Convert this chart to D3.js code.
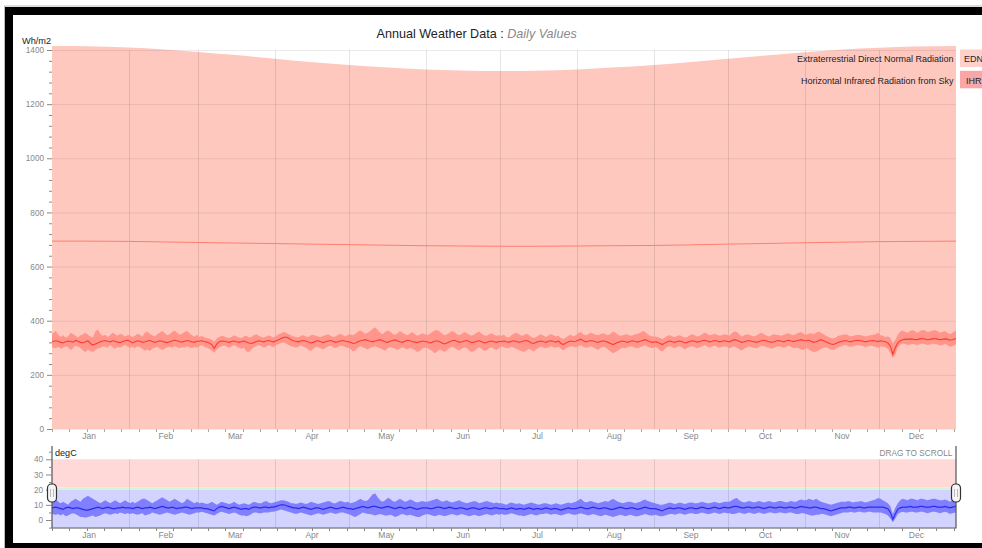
<!DOCTYPE html>
<html>
<head>
<meta charset="utf-8">
<script src="https://cdn.jsdelivr.net/npm/d3@7"></script>
<style>
  body { margin: 0; background: #fff; }
  svg { display: block; font-family: "Liberation Sans", Arial, sans-serif; }
</style>
</head>
<body>
<svg id="chart" width="982" height="548"></svg>
<script>
// ---- Data -------------------------------------------------------------
const YEAR = 2017;
const monthLabels = ["Jan","Feb","Mar","Apr","May","Jun","Jul","Aug","Sep","Oct","Nov","Dec"];

// Extraterrestrial direct normal radiation (Wh/m2), sampled on the 1st and 15th
const ednDates = ["2017-01-01","2017-01-15","2017-02-01","2017-02-15","2017-03-01","2017-03-15",
  "2017-04-01","2017-04-15","2017-05-01","2017-05-15","2017-06-01","2017-06-15","2017-07-01",
  "2017-07-15","2017-08-01","2017-08-15","2017-09-01","2017-09-15","2017-10-01","2017-10-15",
  "2017-11-01","2017-11-15","2017-12-01","2017-12-15","2018-01-01"];
const ednMax  = [1415,1414,1409,1402,1393,1382,1368,1356,1345,1336,1328,1324,1322,1323,1328,1335,1345,1355,1368,1379,1392,1401,1408,1413,1415];
const ednMean = [694,694,693,691,689,687,685,683,681,679,677,676,675,675,676,677,678,680,683,685,688,690,692,693,694];

// Horizontal infrared radiation from sky (Wh/m2), daily mean / min / max, by month
const ihrMean = [
  [322,326,324,320,318,322,325,323,321,327,324,320,318,322,326,316,310,314,318,322,325,327,324,322,326,324,321,319,323,326,328],
  [324,318,322,326,324,320,322,325,327,323,320,322,326,324,321,319,322,325,328,326,323,321,324,327,325,322,320,324],
  [324,326,323,321,318,312,298,314,322,325,324,322,320,323,325,322,320,323,325,321,318,316,319,323,326,324,322,325,327,324,322],
  [326,330,334,338,340,336,330,326,324,322,325,327,324,321,318,320,324,326,322,319,322,325,327,324,320,322,325,327,324,322],
  [320,316,318,322,326,328,330,327,324,322,325,328,330,326,322,320,324,327,329,325,322,320,324,328,326,323,321,319,322,325,323],
  [322,318,320,324,326,322,318,314,318,322,326,328,324,320,322,325,327,323,319,321,324,326,322,318,320,323,325,322,320,323],
  [323,325,322,320,324,326,323,321,322,325,327,324,318,316,320,323,325,322,320,324,326,323,321,325,316,312,318,322,325,323,324],
  [328,332,326,322,324,327,325,322,320,323,326,324,320,316,312,316,320,323,325,322,320,324,326,323,321,324,327,330,326,322,320],
  [322,320,316,312,318,322,325,322,320,323,325,322,318,320,323,326,324,321,323,326,328,325,322,324,327,325,322,324,326,324],
  [322,326,330,328,324,320,322,325,327,324,322,320,323,326,328,325,322,320,322,325,327,324,322,326,328,325,323,326,328,330,327],
  [326,328,324,320,322,326,330,326,322,318,314,312,316,320,323,325,327,324,322,325,327,328,326,324,322,324,326,327,325,323],
  [326,324,322,318,306,276,300,318,326,330,332,331,333,332,330,331,333,334,332,330,331,333,334,332,330,331,333,332,328,330,334]
];
const ihrMax = [
  [352,362,348,340,346,338,342,356,350,344,338,346,350,356,348,342,338,360,368,352,344,348,340,346,356,350,344,352,348,342,346],
  [346,340,344,352,348,342,356,360,352,346,342,350,356,362,354,346,350,358,364,356,348,352,358,362,354,346,342,348],
  [340,344,338,336,334,330,322,334,340,344,342,338,336,340,346,342,338,336,342,344,338,340,346,350,344,340,338,342,346,342,338],
  [344,350,354,358,356,350,346,342,340,338,344,346,342,340,346,348,344,342,340,344,346,350,344,340,342,348,352,346,342,348],
  [350,346,352,360,364,358,352,356,362,370,376,366,356,350,358,364,360,352,348,354,362,356,350,346,352,358,350,344,348,354,350],
  [346,352,358,364,366,360,352,346,350,356,362,358,350,346,352,358,354,348,344,350,356,360,352,346,344,350,354,348,344,346],
  [344,348,340,338,346,352,356,350,344,346,352,348,340,336,340,346,350,344,340,346,350,346,342,344,336,332,338,344,348,342,346],
  [354,358,350,346,350,356,352,348,346,350,354,350,346,352,360,356,348,344,346,350,348,344,346,350,352,356,362,358,350,344,342],
  [342,340,336,332,338,344,346,342,340,344,346,342,338,340,346,350,346,342,344,350,356,352,346,348,352,348,344,346,350,348],
  [344,354,360,358,350,342,346,350,348,344,342,346,352,356,350,344,342,346,350,348,346,344,348,352,354,348,346,352,356,358,352],
  [348,352,354,350,356,360,356,350,344,340,336,334,338,344,346,348,350,346,342,344,346,348,346,344,342,344,346,348,350,356],
  [346,344,340,342,336,316,330,348,360,364,358,356,362,366,360,356,362,366,364,358,360,364,366,362,356,358,362,356,350,356,364]
];
const ihrMin = [
  [302,298,304,296,300,306,302,292,298,308,304,300,290,284,294,288,284,292,298,300,306,304,300,310,302,296,304,300,306,310,304],
  [300,304,298,306,302,296,290,294,288,296,300,304,298,292,296,302,304,300,306,302,298,304,300,306,302,298,304,300],
  [306,310,304,300,296,290,282,294,302,306,308,304,300,306,310,304,300,296,300,286,284,294,302,306,310,306,300,304,310,306,302],
  [310,314,318,320,316,310,306,304,300,304,308,304,300,294,288,296,304,302,298,294,300,306,308,302,298,304,308,306,302,300],
  [296,286,290,300,306,302,298,294,300,304,306,302,298,294,290,298,304,300,296,292,298,302,298,294,300,296,292,284,288,296,300],
  [300,294,288,280,286,294,290,284,292,300,304,300,294,290,296,302,298,290,284,288,296,302,296,288,292,298,302,296,292,298],
  [306,302,298,300,304,300,296,292,288,284,290,296,292,286,294,300,304,300,298,302,306,302,300,304,296,290,298,302,306,304,302],
  [306,310,304,300,302,306,302,296,292,300,304,302,294,286,280,284,290,296,300,298,302,306,304,300,298,302,306,310,304,300,298],
  [304,298,290,286,296,304,306,302,298,304,306,300,294,300,304,306,302,298,302,306,310,306,302,304,308,304,300,304,306,304],
  [298,302,306,300,294,290,296,302,306,302,300,298,304,308,306,302,300,296,300,304,306,302,300,304,308,302,298,300,298,294,292],
  [300,294,288,284,286,290,296,300,302,298,294,292,296,302,306,308,310,306,304,306,308,310,308,306,304,306,308,306,304,300],
  [306,304,302,296,280,262,276,300,312,316,314,310,312,314,312,310,314,316,314,310,312,316,314,312,308,310,314,310,304,306,312]
];

// Dry bulb temperature (degC), daily mean / min / max, by month
const tempMean = [
  [8,8.5,8,7.5,7,8,8.5,8,7.5,8,8,7.5,7,6.5,6.5,7,7.5,8,8.5,8,7.5,8,8.5,8,7.5,7.5,8,8,8.5,8,8],
  [8,7.5,8,8.5,8,7.5,8,8,8.5,8,7.5,8,8.5,9,8.5,8,8,8.5,8,7.5,8,8,8.5,8.5,8,7.5,8,8],
  [8,8,7.5,7.5,7,6.5,6,7.5,8.5,9,8.5,8,7.5,8,8.5,8,7.5,7,7.5,7.5,7,8,8.5,8.5,8,8,8.5,8.5,8,8.5,8.5],
  [9,9.5,10,10,9.5,9,8.5,8,8,7.5,8,8.5,8,7.5,7,7.5,8,8,7.5,7,7.5,8,8.5,8,7.5,7.5,8,8.5,8,7.5],
  [7.5,7,7.5,8,8.5,9,8.5,8,8.5,9,9,8.5,8,8,8.5,9,8.5,8,7.5,8,8.5,8,7.5,8,8.5,8,7.5,7,7.5,8,8],
  [8,7.5,7.5,8,8.5,8.5,8,7.5,8,8.5,8,7.5,7.5,8,8,7.5,7,7.5,8,8,7.5,7,7.5,8,8,7.5,7.5,8,8,7.5],
  [7.5,7.5,7,7.5,8,7.5,7,7.5,7.5,7,7.5,8,7.5,7,7.5,7.5,7,7.5,8,7.5,7,7.5,7.5,7,6.5,7,7.5,8,7.5,7.5,7.5],
  [8,8.5,8,7.5,7.5,8,8.5,8,7.5,7.5,8,8,7.5,7,7,7.5,8,8.5,8,7.5,7.5,8,8,7.5,7,7.5,8,8.5,8,7.5,7.5],
  [7.5,7,6.5,6,7,7.5,8,7.5,7.5,8,8,7.5,7,7.5,8,8,7.5,7.5,8,8.5,8,7.5,7.5,8,8.5,8,7.5,8,8.5,8],
  [8,8.5,9,9,8.5,8,8,8.5,8.5,8,8,8.5,8.5,8,7.5,8,8.5,8.5,8,8,8.5,8.5,8,8,8.5,8.5,8,8,8.5,9,8.5],
  [8.5,8,8,8.5,8.5,8,7.5,7.5,7,6.5,6,6.5,7,7.5,8,8,8,8.5,8.5,8,8,8.5,8.5,8,8,8.5,8.5,8.5,8.5,8.5],
  [8.5,8.5,8,7.5,5,0.5,4,7,8,8.5,8.5,8.5,9,8.5,8.5,8.5,9,9,8.5,8.5,8.5,9,9,8.5,8.5,8.5,9,8.5,8,8.5,9]
];
const tempMax = [
  [13,14,12,11,12,11,10,12,13,14,13,12,14,15,16,15,14,13,12,11,12,13,12,11,12,13,12,11,12,13,12],
  [11,12,11,12,13,14,14,13,12,11,12,13,14,15,14,13,12,13,14,13,12,11,12,14,13,12,11,12],
  [11,11.5,11,10.5,11,12,11,10,11,12,11.5,11,10.5,11,12,11,10,10.5,11,10.5,10,11,12,11.5,11,11,12,12.5,11.5,11,11.5],
  [12,12.5,13,13,12.5,12,11,11,10.5,11,11.5,11,10.5,11,12,11.5,11,10.5,11,11.5,12,12.5,12,11,11,12,12.5,12,11.5,12],
  [11,11.5,12,13,14,13,12.5,13,15,17,17.5,15,13,12,13,14.5,14,12.5,12,13,14,13,12,12.5,13.5,13,12,11.5,12,12.5,12],
  [12,12.5,13,13.5,14,13,12,12.5,13,12,11.5,12,12.5,13,12,11.5,11,11.5,12,12.5,12,11,11.5,12,12.5,12,11.5,11,11.5,11],
  [11,10.5,10,11,11.5,11,10.5,11,10.5,10,10.5,11,11.5,11,10.5,10,10.5,11,11,10.5,10,10.5,11,10.5,10,10.5,11,11.5,11,11.5,12],
  [13,14,12.5,11.5,12,12.5,12,11.5,11,11.5,12,12.5,12,13,14,13,12,11.5,11,11.5,12,12,11.5,11,11.5,12,13,13.5,12.5,12,11.5],
  [11,10.5,10,10,10.5,11,11.5,11,10.5,11,11.5,11,10.5,11,11.5,11.5,11,11,11.5,12,11.5,11,11,11.5,12,11.5,11,11.5,12,12],
  [12,13,14,14.5,13,12,11.5,12,12.5,12,11.5,12,12.5,12,11.5,12,12.5,12,11.5,12,12.5,12.5,12,11.5,12,12.5,12,12,13,13.5,13],
  [13,14,13.5,13,14,13,12,11.5,11,10.5,10,10.5,11,11.5,12,12,12,12.5,12,11.5,12,12,12.5,12,11.5,12,12.5,13,13.5,14.5],
  [14,13,12,11,9,4,8,11,13,14,13.5,13,14,14,13.5,13,14,14,13.5,13,13.5,14,14,13.5,13,13,13.5,13,12,13,14]
];
const tempMin = [
  [4,3.5,4,3,4,2.5,3,4,4.5,4,3,2,2,1.5,2,2.5,3,2,2.5,3,4,4.5,4,3.5,4,4.5,4,5,4.5,4,4.5],
  [4,4.5,4,3.5,4,4.5,3,3.5,4,5,4.5,4,3.5,4,4.5,5,4.5,4,3.5,4,4.5,5,4.5,4,3.5,4,4.5,5],
  [5,5.5,5,4.5,4,3.5,3,4,5,5.5,5,4.5,4,4.5,5,4.5,3.5,3,3,2.5,3,4,5,5,4.5,4.5,5,5,5,5.5,5.5],
  [6,6.5,7,6.5,6,5.5,5,4.5,4,4.5,5,4.5,4,3.5,3,3.5,4,4.5,4,3.5,4,4.5,5,4.5,4,4.5,5,5,4.5,4],
  [3.5,2.5,2,3,4,5,4.5,4,4,3.5,3,3.5,4,3.5,3,3,3.5,3,2,2.5,3.5,4,3.5,3,3.5,3,2.5,2,2,3,3.5],
  [4,3.5,3,2.5,3,3.5,3,2.5,3,3.5,4,3.5,3,3.5,4,3.5,3,2.5,3,3.5,3,2.5,3,3.5,4,3.5,3,3.5,4,3.5],
  [4,3.5,3.5,4,4.5,4,3.5,3,3,2.5,3,3.5,4,3.5,3,3.5,4,4,4.5,4,3.5,4,4,3.5,3,3.5,4,4.5,4,3.5,3.5],
  [4,4.5,4,3.5,3,3.5,4,3.5,3,2.5,3,3.5,3,2.5,2,2.5,3,3.5,3,2.5,3,3.5,3,2.5,2.5,3,3.5,4,3.5,3,3],
  [3.5,3,2.5,2.5,3,3.5,4,4,3.5,4,4.5,4,3.5,4,4.5,4.5,4,4,4.5,5,4.5,4,4,4.5,5,4.5,4,4.5,5,4.5],
  [4.5,4,4,4.5,5,4.5,4,4.5,5,4.5,4,4.5,5,4.5,4,4.5,5,5,4.5,4.5,5,5,4.5,4.5,5,5,4.5,4,4,4.5,4.5],
  [4,3.5,3,3,3.5,3.5,4,4,3.5,3,2.5,3,3.5,4,4.5,5,5,5,5.5,5,5,5.5,5.5,5,5,5.5,5.5,5,5,5],
  [5,4.5,4,3,1,-1.5,1,4,5,5.5,5,5,5.5,5.5,5,5,5.5,5.5,5,4.5,5,5.5,5.5,5,4.5,5,5.5,5,4,4.5,5]
];

// Temperature bands of the overview strip (degC)
const zoneBounds = [-5, 20, 21.5, 40];
const zoneColors = ["#d3d3ff", "#d8efd8", "#ffd8d8"];

// ---- Helpers ----------------------------------------------------------
const yearStart = new Date(YEAR, 0, 1);
const yearEnd = new Date(YEAR + 1, 0, 1);

function flatten(name, byMonth) {
  byMonth.forEach((arr, m) => {
    const n = d3.timeDay.count(new Date(YEAR, m, 1), new Date(YEAR, m + 1, 1));
    if (arr.length !== n) throw new Error(name + " month " + (m + 1) + " has " + arr.length + " values, expected " + n);
  });
  return byMonth.flat();
}

const ihr = { mean: flatten("ihrMean", ihrMean), min: flatten("ihrMin", ihrMin), max: flatten("ihrMax", ihrMax) };
const temp = { mean: flatten("tempMean", tempMean), min: flatten("tempMin", tempMin), max: flatten("tempMax", tempMax) };
const nDays = ihr.mean.length;
const days = d3.range(nDays);
const edn = ednDates.map((s, i) => ({ date: d3.timeParse("%Y-%m-%d")(s), max: ednMax[i], mean: ednMean[i] }));

// ---- Layout -----------------------------------------------------------
const svg = d3.select("#chart");
const left = 52, right = 956;
const x = d3.scaleTime().domain([yearStart, yearEnd]).range([left, right]);
const y = d3.scaleLinear().domain([0, 1400]).range([429, 50]);
const y2 = d3.scaleLinear().domain([-5, 40]).range([527.6, 459.3]);

// daily values sit at noon; the first and last day reach the plot edges
const dayX = i => i === 0 ? left : i === nDays - 1 ? right
  : x(d3.timeHour.offset(d3.timeDay.offset(yearStart, i), 12));

const monthStarts = d3.timeMonth.range(yearStart, yearEnd);
const monthMids = monthStarts.map(d => new Date(d.getFullYear(), d.getMonth(), 16));
const weekTicks = d3.timeSunday.range(yearStart, yearEnd);

// screen frame
svg.append("rect").attr("x", 0).attr("y", 0).attr("width", 982).attr("height", 548).attr("fill", "#fff");
svg.append("line").attr("x1", 4).attr("x2", 982).attr("y1", 6).attr("y2", 6).attr("stroke", "#bbb");
svg.append("line").attr("x1", 4.5).attr("x2", 4.5).attr("y1", 6).attr("y2", 548).attr("stroke", "#bbb");
svg.append("rect").attr("x", 5).attr("y", 7).attr("width", 977).attr("height", 541).attr("fill", "#000");
svg.append("rect").attr("x", 13).attr("y", 15).attr("width", 969).attr("height", 528).attr("fill", "#fff");

// title
const title = svg.append("text").attr("x", 376.5).attr("y", 37.7).attr("font-size", 12.6);
title.append("tspan").attr("fill", "#222").text("Annual Weather Data : ");
title.append("tspan").attr("fill", "#8a8a8a").attr("font-style", "italic").text("Daily Values");

// ---- Main chart -------------------------------------------------------
const main = svg.append("g");

main.append("path").datum(edn)
  .attr("fill", "#fec8bf")
  .attr("d", d3.area().x(d => x(d.date)).y0(y(0)).y1(d => y(d.max)).curve(d3.curveMonotoneX));

// grid
main.append("g").selectAll("line").data(d3.range(0, 1401, 200)).join("line")
  .attr("x1", left).attr("x2", right).attr("y1", d => y(d) + 0.5).attr("y2", d => y(d) + 0.5)
  .attr("stroke", "#000").attr("stroke-opacity", 0.08);
main.append("g").selectAll("line").data(monthStarts.slice(1)).join("line")
  .attr("x1", d => Math.round(x(d)) + 0.5).attr("x2", d => Math.round(x(d)) + 0.5)
  .attr("y1", y(1400)).attr("y2", y(0))
  .attr("stroke", "#000").attr("stroke-opacity", 0.1);

main.append("path").datum(edn)
  .attr("fill", "none").attr("stroke", "#ff7f6e").attr("stroke-width", 1)
  .attr("d", d3.line().x(d => x(d.date)).y(d => y(d.mean)).curve(d3.curveMonotoneX));

main.append("path").datum(days)
  .attr("fill", "#ff8f85").attr("fill-opacity", 0.9)
  .attr("d", d3.area().x(dayX).y0(i => y(ihr.min[i])).y1(i => y(ihr.max[i])));
main.append("path").datum(days)
  .attr("fill", "none").attr("stroke", "#ff3b30").attr("stroke-width", 1.1)
  .attr("d", d3.line().x(dayX).y(i => y(ihr.mean[i])));

// y axis
const yAxis = main.append("g").attr("transform", `translate(${left},0)`)
  .call(d3.axisLeft(y).tickValues(d3.range(0, 1401, 200)).tickFormat(d3.format("d")).tickSize(5).tickPadding(3));
yAxis.select(".domain").remove();
yAxis.selectAll(".tick line").attr("stroke", "#888");
yAxis.selectAll(".tick text").attr("fill", "#888").attr("font-size", 8.2).attr("font-family", null);
main.append("g").selectAll("line").data(d3.range(0, 1401, 40).filter(v => v % 200 !== 0)).join("line")
  .attr("x1", left - 3).attr("x2", left).attr("y1", d => y(d) + 0.5).attr("y2", d => y(d) + 0.5)
  .attr("stroke", "#888");
main.append("text").attr("x", 22).attr("y", 43.5).attr("font-size", 9.2).attr("fill", "#222").text("Wh/m2");

// x axis: weekly ticks, month names mid-month
main.append("g").selectAll("line").data(weekTicks).join("line")
  .attr("x1", d => Math.round(x(d)) + 0.5).attr("x2", d => Math.round(x(d)) + 0.5)
  .attr("y1", 429).attr("y2", 432).attr("stroke", "#aaa");
main.append("g").selectAll("text").data(monthMids).join("text")
  .attr("x", d => x(d)).attr("y", 439).attr("text-anchor", "middle")
  .attr("font-size", 8.5).attr("fill", "#888").text((d, i) => monthLabels[i]);

// legend
const legend = [
  { label: "Extraterrestrial Direct Normal Radiation", key: "EDN", color: "#fdd1c9", y: 62.3, box: 49.5 },
  { label: "Horizontal Infrared Radiation from Sky", key: "IHR", color: "#f8a6a6", y: 84, box: 70.8 }
];
const lg = main.append("g").selectAll("g").data(legend).join("g");
lg.append("text").attr("x", 953.5).attr("y", d => d.y).attr("text-anchor", "end")
  .attr("font-size", 9).attr("fill", "#222").text(d => d.label);
lg.append("rect").attr("x", 960).attr("y", d => d.box).attr("width", 30).attr("height", 17.5)
  .attr("fill", d => d.color);
lg.append("text").attr("x", d => d.key === "EDN" ? 964 : 966).attr("y", d => d.y)
  .attr("font-size", 9).attr("fill", "#222").text(d => d.key);

// ---- Overview strip (temperature) -------------------------------------
const strip = svg.append("g");

strip.append("g").selectAll("rect").data(zoneColors).join("rect")
  .attr("x", left).attr("width", right - left)
  .attr("y", (c, i) => y2(zoneBounds[i + 1])).attr("height", (c, i) => y2(zoneBounds[i]) - y2(zoneBounds[i + 1]))
  .attr("fill", c => c);

strip.append("g").selectAll("line").data(monthStarts.slice(1)).join("line")
  .attr("x1", d => Math.round(x(d)) + 0.5).attr("x2", d => Math.round(x(d)) + 0.5)
  .attr("y1", y2(40)).attr("y2", y2(-5))
  .attr("stroke", "#000").attr("stroke-opacity", 0.1);

strip.append("path").datum(days)
  .attr("fill", "#7777ff").attr("fill-opacity", 0.9)
  .attr("d", d3.area().x(dayX).y0(i => y2(temp.min[i])).y1(i => y2(temp.max[i])));
strip.append("path").datum(days)
  .attr("fill", "none").attr("stroke", "#2a2af2").attr("stroke-width", 1.1)
  .attr("d", d3.line().x(dayX).y(i => y2(temp.mean[i])));

// frame of the strip
const frameColor = "#555";
strip.append("path").attr("fill", "none").attr("stroke", frameColor).attr("stroke-width", 1.2)
  .attr("d", `M${left},446V528H${right}V446`);

const y2Axis = strip.append("g").attr("transform", `translate(${left},0)`)
  .call(d3.axisLeft(y2).tickValues([0, 10, 20, 30, 40]).tickSize(6).tickPadding(3));
y2Axis.select(".domain").remove();
y2Axis.selectAll(".tick line").attr("stroke", "#888");
y2Axis.selectAll(".tick text").attr("fill", "#888").attr("font-size", 8.2).attr("font-family", null);
strip.append("g").selectAll("line").data([-5, 5, 15, 25, 35, 45]).join("line")
  .attr("x1", left - 3).attr("x2", left).attr("y1", d => y2(d) + 0.5).attr("y2", d => y2(d) + 0.5)
  .attr("stroke", "#888");

strip.append("g").selectAll("line").data(weekTicks).join("line")
  .attr("x1", d => Math.round(x(d)) + 0.5).attr("x2", d => Math.round(x(d)) + 0.5)
  .attr("y1", 528).attr("y2", 531).attr("stroke", "#888");
strip.append("g").selectAll("text").data(monthMids).join("text")
  .attr("x", d => x(d)).attr("y", 537.5).attr("text-anchor", "middle")
  .attr("font-size", 8.5).attr("fill", "#888").text((d, i) => monthLabels[i]);

strip.append("text").attr("x", 55).attr("y", 456).attr("font-size", 9.1).attr("fill", "#222").text("degC");
strip.append("text").attr("x", 952.5).attr("y", 456).attr("text-anchor", "end")
  .attr("font-size", 8.3).attr("fill", "#888").text("DRAG TO SCROLL");

// scroll handles
const handles = strip.append("g").selectAll("g").data([left, right]).join("g")
  .attr("transform", d => `translate(${d},493)`);
handles.append("rect").attr("x", -4.5).attr("y", -9).attr("width", 9).attr("height", 18).attr("rx", 4)
  .attr("fill", "#f6f6f6").attr("stroke", "#333").attr("stroke-width", 1.2);
handles.selectAll("line").data([-1.5, 1.5]).join("line")
  .attr("x1", d => d).attr("x2", d => d).attr("y1", -4).attr("y2", 4)
  .attr("stroke", "#bbb");
</script>
</body>
</html>
